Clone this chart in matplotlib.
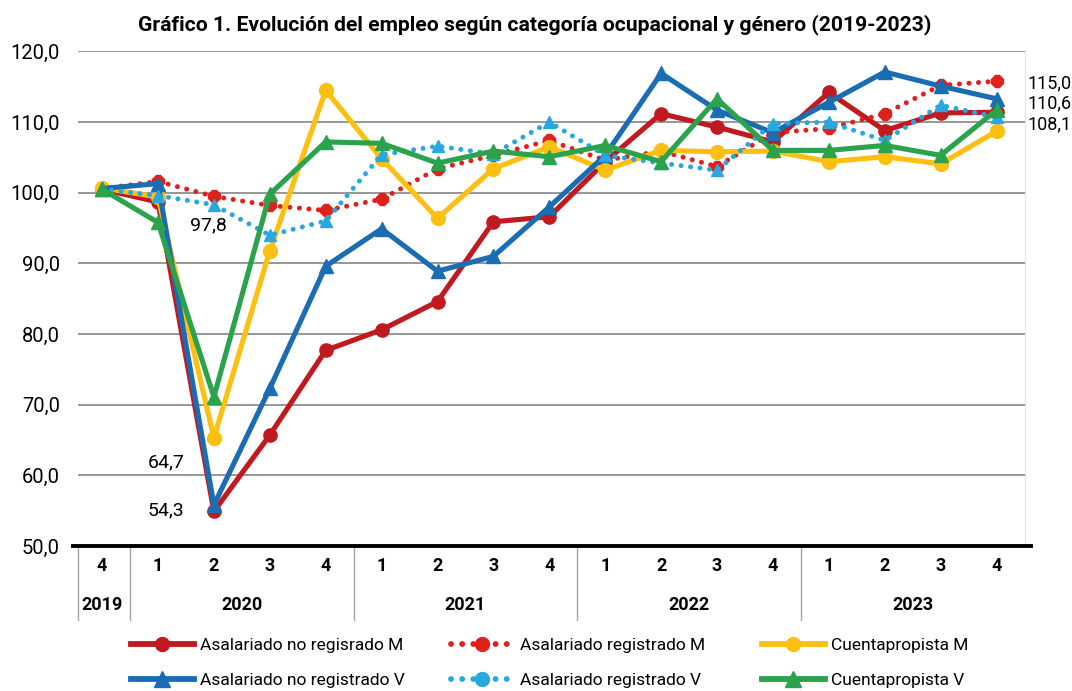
import matplotlib
matplotlib.use('Agg')
import matplotlib.pyplot as plt
from matplotlib.lines import Line2D

plt.rcParams['font.family'] = ['Roboto', 'DejaVu Sans']

# trimestres 2019-IV a 2023-IV
quarters = ['4', '1', '2', '3', '4', '1', '2', '3', '4', '1', '2', '3', '4', '1', '2', '3', '4']
years = ['2019', '2020', '2021', '2022', '2023']

no_reg_m = [100.5, 98.7, 54.9, 65.7, 77.7, 80.6, 84.6, 95.9, 96.6,
            104.4, 111.2, 109.3, 107.2, 114.2, 108.8, 111.3, 111.4]
reg_m = [100.6, 101.6, 99.5, 98.2, 97.5, 99.1, 103.4, 105.3, 107.4,
         104.6, 105.9, 103.7, 108.5, 109.1, 111.2, 115.2, 115.8]
cuenta_m = [100.7, 99.4, 65.3, 91.8, 114.5, 104.8, 96.4, 103.4, 106.5,
            103.2, 106.0, 105.8, 105.9, 104.4, 105.1, 104.1, 108.7]
no_reg_v = [100.6, 101.3, 55.8, 72.3, 89.6, 94.9, 88.9, 91.0, 98.0,
            105.3, 116.9, 111.7, 108.5, 112.8, 117.1, 115.1, 113.3]
reg_v = [100.5, 99.6, 98.3, 94.0, 96.0, 105.4, 106.6, 105.5, 110.0,
         105.3, 104.2, 103.2, 109.8, 110.0, 107.4, 112.4, 110.7]
cuenta_v = [100.5, 95.8, 71.1, 99.8, 107.2, 107.0, 104.2, 105.9, 105.1,
            106.7, 104.4, 113.3, 106.0, 106.0, 106.7, 105.3, 111.7]

labels = ['Asalariado no regisrado M', 'Asalariado registrado M', 'Cuentapropista M',
          'Asalariado no registrado V', 'Asalariado registrado V', 'Cuentapropista V']

RED = '#C0191F'
RED2 = '#E0201B'
YEL = '#FDBF10'
BLUE = '#1B6DB3'
LBLUE = '#27A8E0'
GREEN = '#2BA24C'

dotted = (0, (0.01, 1.9))

fig = plt.figure(figsize=(10.72, 6.91), dpi=100)
ax = fig.add_axes([0.0728, 0.2098, 0.8834, 0.7157])

x = list(range(len(quarters)))

ax.plot(x, no_reg_m, color=RED, lw=3.7, marker='o', ms=9.5, zorder=3)
ax.plot(x, reg_m, color=RED2, lw=3.6, ls=dotted, dash_capstyle='round',
        marker='8', ms=9, zorder=3)
ax.plot(x, cuenta_m, color=YEL, lw=3.7, marker='o', ms=10, zorder=3)
ax.plot(x, no_reg_v, color=BLUE, lw=3.7, marker='^', ms=10, zorder=3)
ax.plot(x, reg_v, color=LBLUE, lw=3.6, ls=dotted, dash_capstyle='round',
        marker='^', ms=8.5, zorder=3)
ax.plot(x, cuenta_v, color=GREEN, lw=3.7, marker='^', ms=10, zorder=3)

ax.set_xlim(-0.43, 16.51)
ax.set_ylim(50, 120)
ax.set_yticks(range(50, 121, 10))
ax.set_yticklabels([f'{v},0' for v in range(50, 121, 10)], fontsize=14.5)
ax.tick_params(axis='y', length=0, pad=13)
ax.set_xticks([])
for s in ['top', 'left', 'bottom']:
    ax.spines[s].set_visible(False)
ax.spines['right'].set_color('#e6e6e6')

for v in range(60, 121, 10):
    ax.axhline(v, color='#7a7a7a', lw=1.1, zorder=1)

# linea base gruesa
ax.add_line(Line2D([-0.005, 1.006], [0, 0], transform=ax.transAxes,
                   color='black', lw=2.8, clip_on=False, zorder=4))

# tabla de trimestres y años debajo
tr = ax.get_xaxis_transform()
for i, q in enumerate(quarters):
    ax.text(i, -0.040, q, transform=tr, ha='center', va='center',
            fontsize=13, fontweight='bold')
year_x = [0, 2.5, 6.5, 10.5, 14.5]
for xi, yr in zip(year_x, years):
    ax.text(xi, -0.119, yr, transform=tr, ha='center', va='center',
            fontsize=13, fontweight='bold')
for sx in [-0.43, 0.5, 4.5, 8.5, 12.5]:
    ax.add_line(Line2D([sx, sx], [0, -0.15], transform=tr, color='#a6a6a6',
                       lw=1.0, clip_on=False))

# etiquetas de datos
ax.text(1.9, 95.4, '97,8', fontsize=14, ha='center', va='center')
ax.text(1.15, 61.9, '64,7', fontsize=14, ha='center', va='center')
ax.text(1.15, 55.1, '54,3', fontsize=14, ha='center', va='center')
ax.text(16.55, 115.5, '115,0', fontsize=13, ha='left', va='center', clip_on=False)
ax.text(16.55, 112.6, '110,6', fontsize=13, ha='left', va='center', clip_on=False)
ax.text(16.55, 109.7, '108,1', fontsize=13, ha='left', va='center', clip_on=False)

fig.text(0.499, 0.965, 'Gráfico 1. Evolución del empleo según categoría ocupacional y género (2019-2023)',
         ha='center', va='center', fontsize=15.2, fontweight='bold')

# leyenda en tres columnas
def h(color, ls, marker, ms):
    return Line2D([], [], color=color, lw=4.2, ls=ls, marker=marker, ms=ms,
                  dash_capstyle='round')

handles = [h(RED, '-', 'o', 10), h(RED2, dotted, 'o', 10), h(YEL, '-', 'o', 10),
           h(BLUE, '-', '^', 11), h(LBLUE, dotted, 'o', 10), h(GREEN, '-', '^', 11)]
cols = [(131, [0, 3]), (451, [1, 4]), (762, [2, 5])]
for px, idx in cols:
    fig.legend([handles[k] for k in idx], [labels[k] for k in idx],
               loc='upper left', bbox_to_anchor=(px / 1072, 1 - 638 / 691),
               frameon=False, fontsize=12.5, borderpad=0, borderaxespad=0,
               handlelength=3.6, handletextpad=0.4, labelspacing=1.15, numpoints=1)

fig.savefig('out.png', dpi=100)
